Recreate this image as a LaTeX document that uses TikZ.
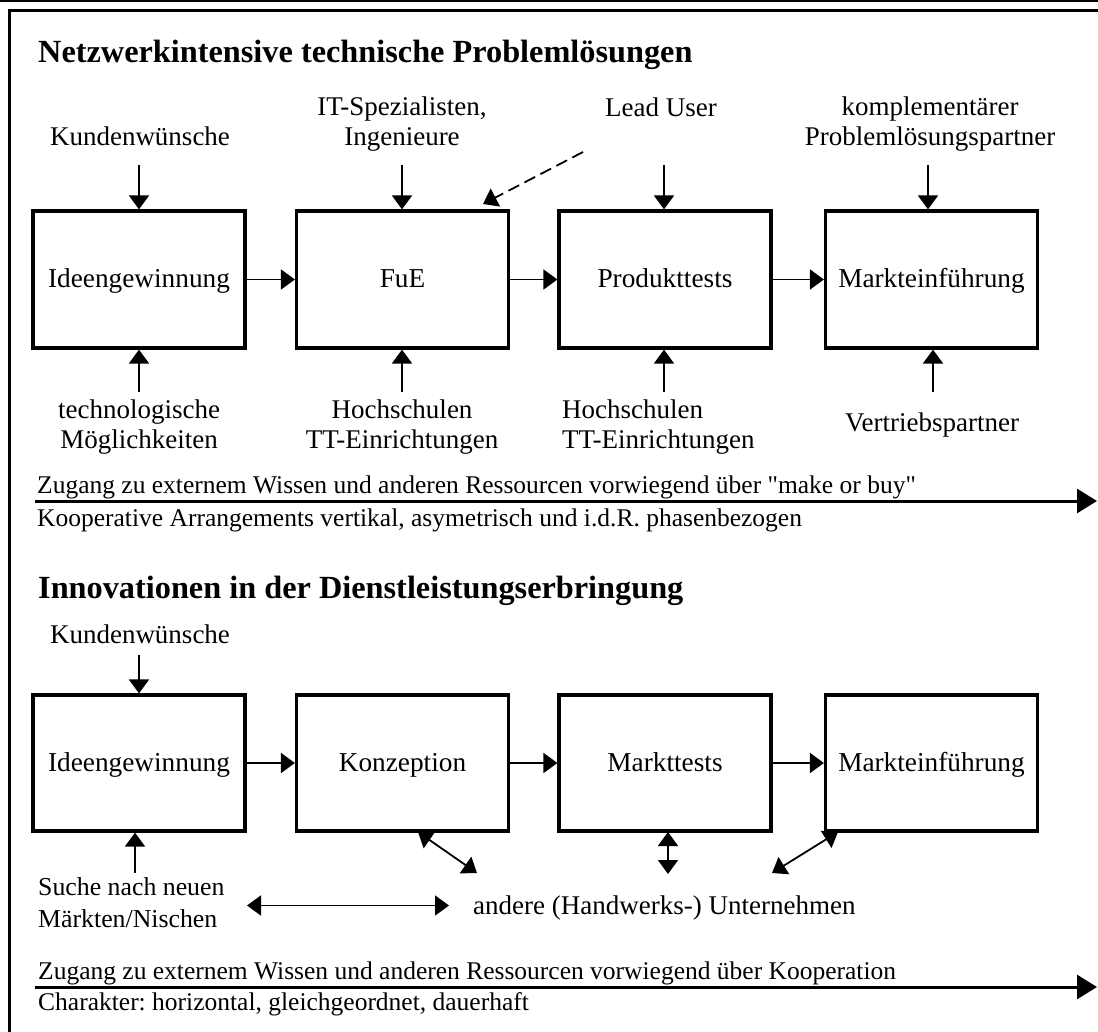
\documentclass[tikz,border=0pt]{standalone}
\usepackage{fontspec}
\setmainfont{Liberation Serif}
\usetikzlibrary{arrows.meta}
\frenchspacing
\tikzset{
  box/.style={draw, line width=3.2pt, minimum width=212pt, minimum height=137pt, inner sep=0pt,
    text height=23pt, text depth=6pt, font=\fontsize{27.3}{31}\selectfont},
  lbl/.style={inner sep=0pt, anchor=base, font=\fontsize{27}{31}\selectfont},
  lblw/.style={inner sep=0pt, anchor=base west, font=\fontsize{27}{31}\selectfont},
  wide/.style={inner sep=0pt, anchor=base west, font=\fontsize{25.5}{30}\selectfont},
  ttl/.style={inner sep=0pt, anchor=base west, font=\fontsize{32.3}{36}\selectfont\bfseries},
  arr/.style={line width=1.8pt, -{Triangle[length=14pt,width=20pt]}},
  darr/.style={line width=1.8pt, {Triangle[length=14pt,width=20pt]}-{Triangle[length=14pt,width=20pt]}},
  bigarr/.style={line width=3pt, -{Triangle[length=20pt,width=24pt]}},
}
\begin{document}
\begin{tikzpicture}[x=1pt,y=-1pt]
\useasboundingbox (0,0) rectangle (1098,1032);
% frame
\draw[line width=1.5pt] (0,0.8) -- (1098,0.8);
\draw[line width=2.8pt] (1098,10.5) -- (9.8,10.5) -- (9.8,1032);

% ---------- upper part ----------
\node[ttl] (T1) at (38,63) {Netzwerkintensive technische Problemlösungen};

\node[box] (b1) at (139,279.5) {Ideengewinnung};
\node[box] (b2) at (402.5,279.5) {FuE};
\node[box] (b3) at (665,279.5) {Produkttests};
\node[box] (b4) at (931.5,279.5) {Markteinführung};

\draw[arr] (b1) -- (b2);
\draw[arr] (b2) -- (b3);
\draw[arr] (b3) -- (b4);

\node[lbl] (k1) at (140,146) {Kundenwünsche};
\node[lbl] (k2a) at (402,116) {IT-Spezialisten,};
\node[lbl] (k2b) at (402,146) {Ingenieure};
\node[lbl] (k3) at (661,117) {Lead User};
\node[lbl] (k4a) at (930,116) {komplementärer};
\node[lbl] (k4b) at (930,146) {Problemlösungspartner};

\coordinate (t1) at (139,165);
\coordinate (t2) at (402,165);
\coordinate (t3) at (664,165);
\coordinate (t4) at (928,165);
\draw[arr] (t1) -- (t1 |- b1.north);
\draw[arr] (t2) -- (t2 |- b2.north);
\draw[arr] (t3) -- (t3 |- b3.north);
\draw[arr] (t4) -- (t4 |- b4.north);

\coordinate (d0) at (583,152);
\coordinate (d1) at (483,204);
\draw[arr, dash pattern=on 12pt off 6pt] (d0) -- (d1);

\node[lbl] (m1a) at (139,418) {technologische};
\node[lbl] (m1b) at (139,448) {Möglichkeiten};
\node[lbl] (m2a) at (402,418) {Hochschulen};
\node[lbl] (m2b) at (402,448) {TT-Einrichtungen};
\node[lblw] (m3a) at (562,418) {Hochschulen};
\node[lblw] (m3b) at (562,448) {TT-Einrichtungen};
\node[lbl] (m4) at (932,431) {Vertriebspartner};

\coordinate (u1) at (139,392);
\coordinate (u2) at (402,392);
\coordinate (u3) at (664,392);
\coordinate (u4) at (933,392);
\draw[arr] (u1) -- (u1 |- b1.south);
\draw[arr] (u2) -- (u2 |- b2.south);
\draw[arr] (u3) -- (u3 |- b3.south);
\draw[arr] (u4) -- (u4 |- b4.south);

\coordinate (L1a) at (35,501);
\coordinate (L1b) at (1097,501);
\draw[bigarr] (L1a) -- (L1b);
\node[wide] (z1) at (37,493) {Zugang zu externem Wissen und anderen Ressourcen vorwiegend über \textquotedbl make or buy\textquotedbl};
\node[wide] (z2) at (37,526) {Kooperative Arrangements vertikal, asymetrisch und i.d.R. phasenbezogen};

% ---------- lower part ----------
\node[ttl] (T2) at (38,598) {Innovationen in der Dienstleistungserbringung};

\node[box, minimum height=136pt] (c1) at (139,763) {Ideengewinnung};
\node[box, minimum height=136pt] (c2) at (402.5,763) {Konzeption};
\node[box, minimum height=136pt] (c3) at (665,763) {Markttests};
\node[box, minimum height=136pt] (c4) at (931.5,763) {Markteinführung};

\draw[arr] (c1) -- (c2);
\draw[arr] (c2) -- (c3);
\draw[arr] (c3) -- (c4);

\node[lbl] (n1) at (140,643) {Kundenwünsche};
\coordinate (v1) at (139,655);
\draw[arr] (v1) -- (v1 |- c1.north);

\node[lblw, font=\fontsize{25.8}{30}\selectfont] (s1a) at (38,895) {Suche nach neuen};
\node[lblw, font=\fontsize{25.8}{30}\selectfont] (s1b) at (38,927) {Märkten/Nischen};
\coordinate (w1) at (135,873);
\draw[arr] (w1) -- (w1 |- c1.south);

\coordinate (p1) at (418,832);
\coordinate (p2) at (477,873);
\draw[darr] (p1) -- (p2);
\coordinate (q1) at (668,832);
\coordinate (q2) at (668,874);
\draw[darr] (q1) -- (q2);
\coordinate (r1) at (838,832);
\coordinate (r2) at (772,873);
\draw[darr] (r1) -- (r2);
\coordinate (h0) at (247,905.5);
\coordinate (h1) at (449,905.5);
\draw[darr] (h0) -- (h1);

\node[lblw] (an) at (473,914) {andere (Handwerks-) Unternehmen};

\coordinate (L2a) at (35,987);
\coordinate (L2b) at (1097,987);
\draw[bigarr] (L2a) -- (L2b);
\node[wide] (z3) at (38,979) {Zugang zu externem Wissen und anderen Ressourcen vorwiegend über Kooperation};
\node[wide] (z4) at (38,1010) {Charakter: horizontal, gleichgeordnet, dauerhaft};
\end{tikzpicture}
\end{document}
